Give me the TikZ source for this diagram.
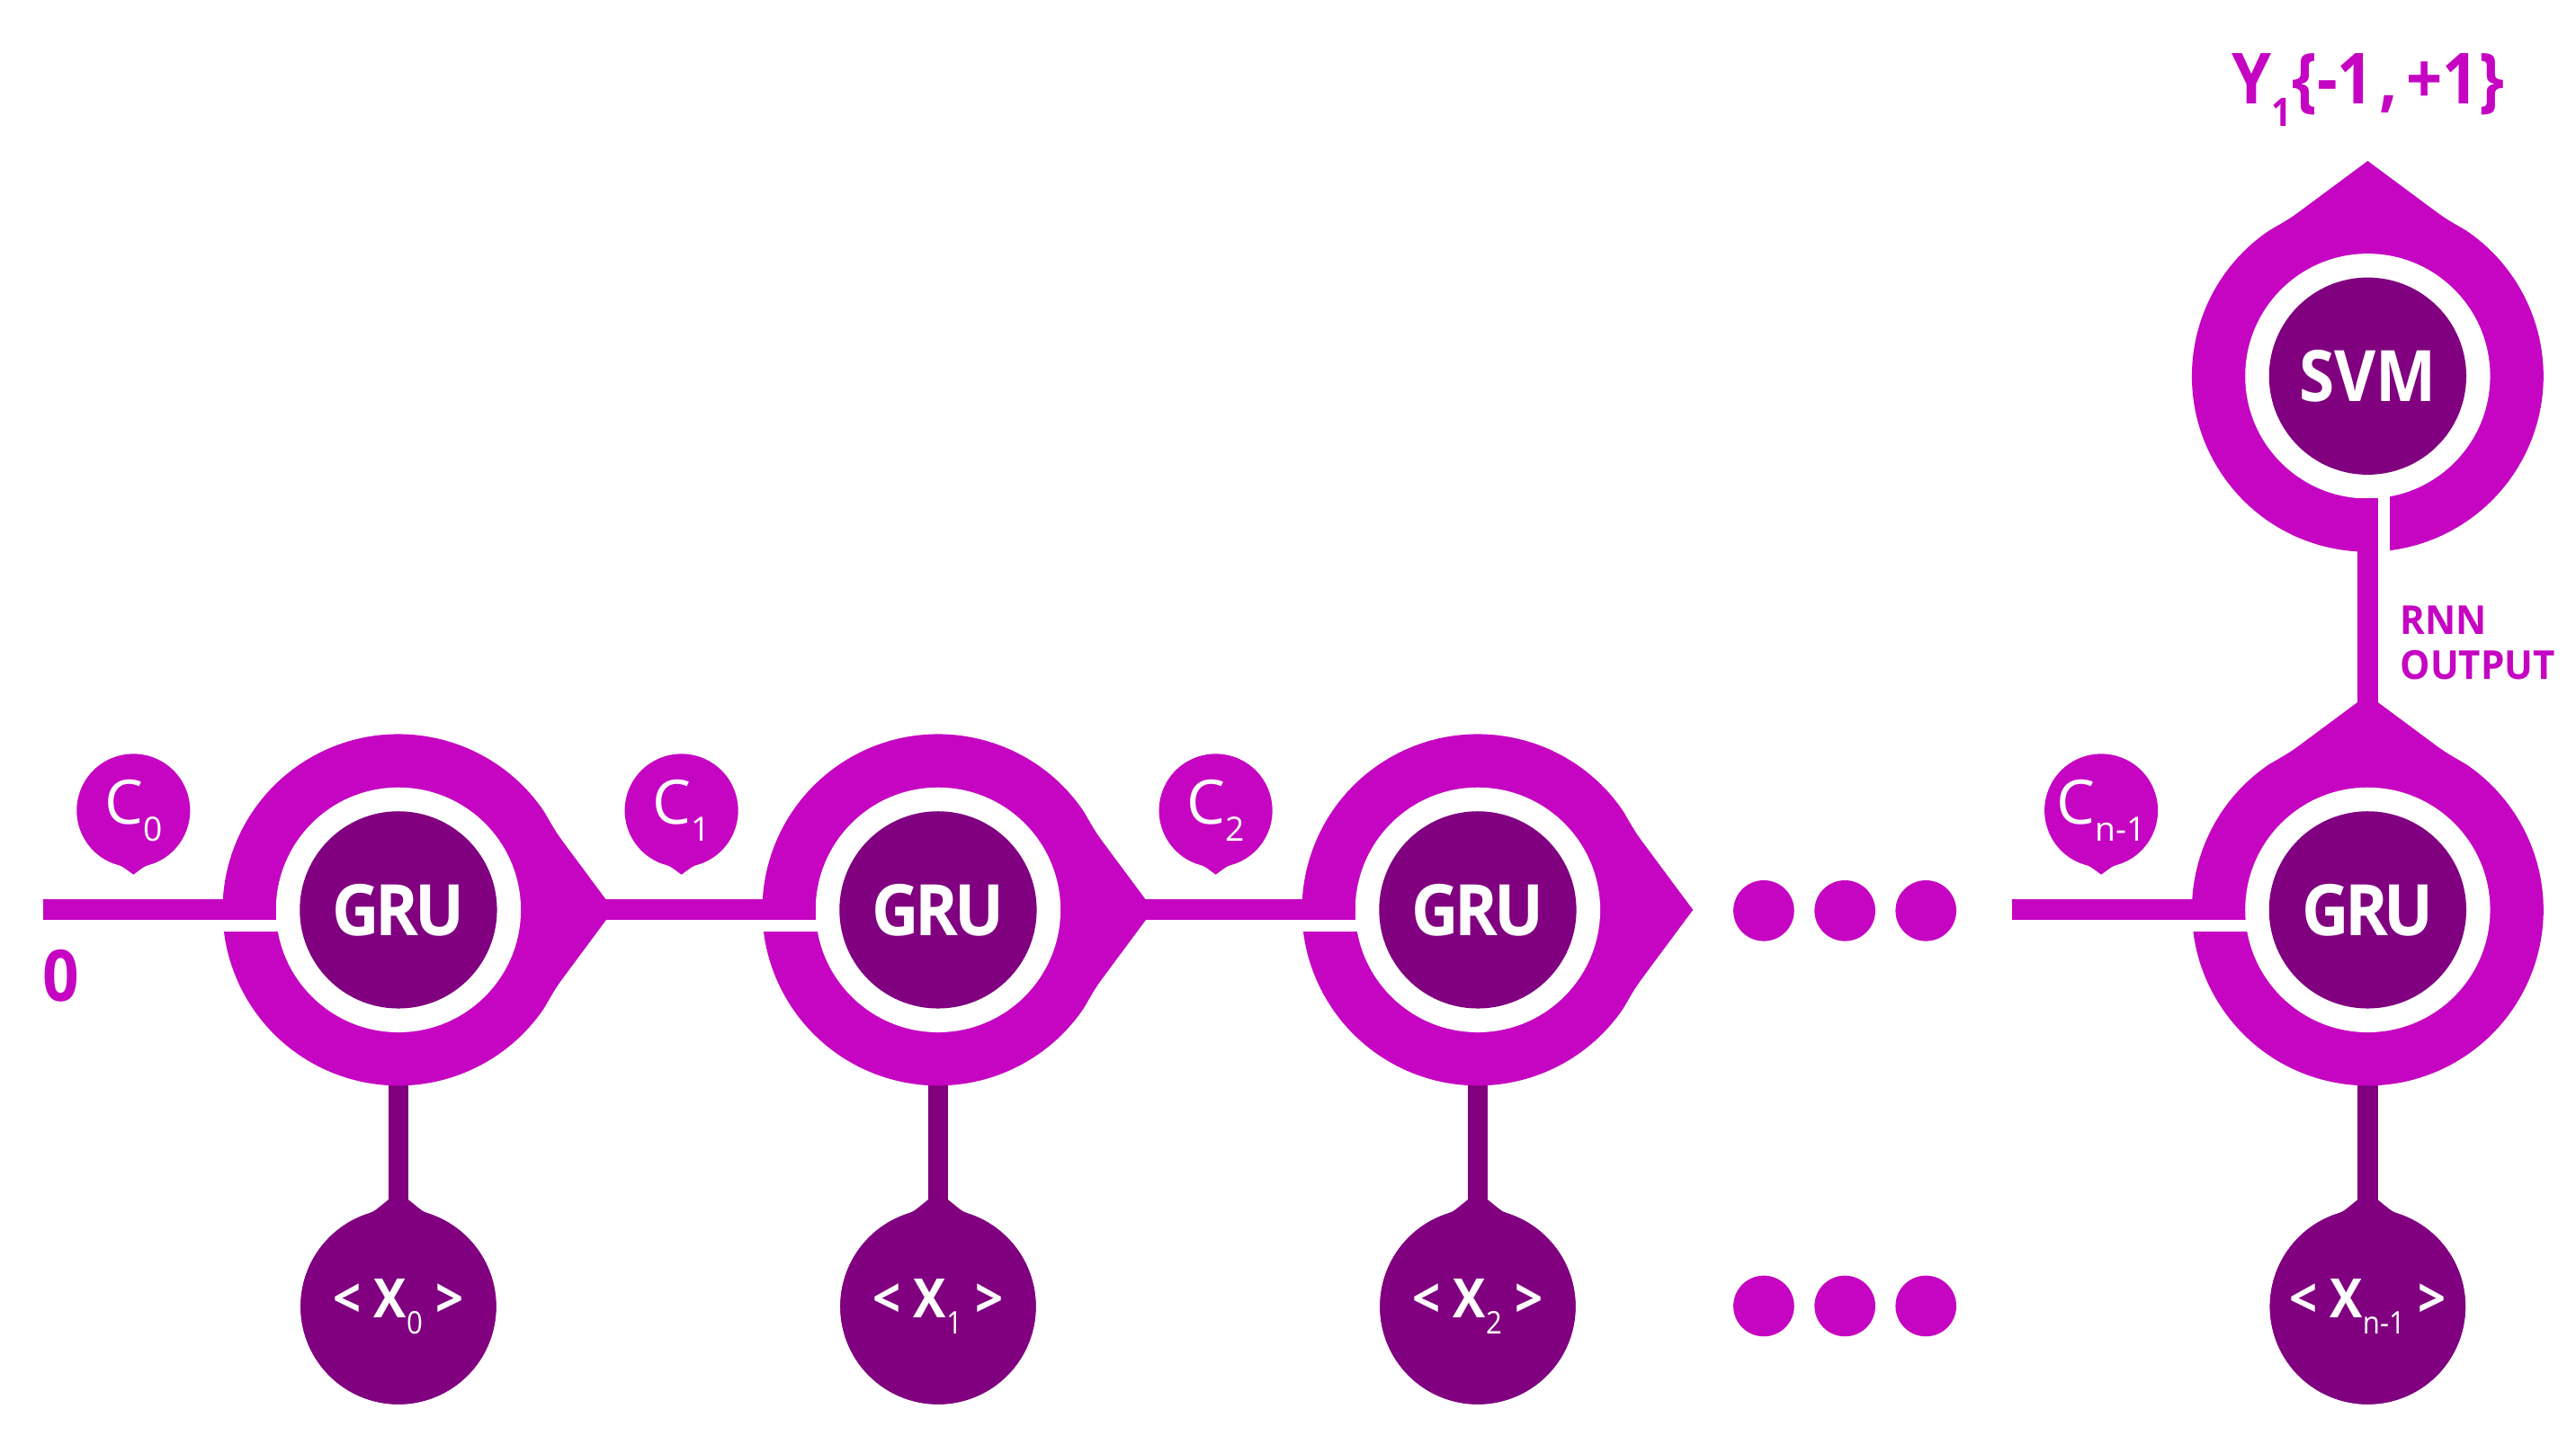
\documentclass[tikz,border=0pt]{standalone}
\usepackage{fontspec}
\setmainfont{Open Sans}
\newfontfamily\nfontA[FakeStretch=0.92, LetterSpace=-6]{Open Sans}
\newfontfamily\nfontB[FakeStretch=0.9]{Open Sans}
\newfontfamily\nfontC[FakeStretch=0.95]{Open Sans}
\usetikzlibrary{calc}
\definecolor{mag}{HTML}{C505C2}
\definecolor{dpur}{HTML}{800080}
% #1 colour, #2 centre, #3 radius, #4 apex distance, #5 direction, #6 shoulder angle, #7 fillet fraction, #8 fillet angle
\newcommand\dropshape[8]{%
  \begin{scope}[shift={(#2)}, rotate=#5]
    \fill[#1] (#4,0) -- ($(#4,0)!#7!(#6:#3)$) .. controls (#6:#3) .. ({#6+#8}:#3)
      arc[start angle={#6+#8}, end angle={360-#6-#8}, radius=#3]
      .. controls (-#6:#3) .. ($(#4,0)!#7!(-#6:#3)$) -- cycle;
  \end{scope}}
\newcommand\csub[1]{\raisebox{-2.85pt}{\fontsize{5.8}{6}\selectfont #1}}
\newcommand\xsub[1]{\raisebox{-2.85pt}{\fontsize{5.4}{6}\selectfont\mdseries #1}}
\begin{document}
\begin{tikzpicture}[x=0.01cm, y=0.01cm,
  core/.style={circle, fill=dpur, minimum size=1.2cm, inner sep=0, outer sep=0, text=white, font=\nfontA\fontsize{12.3}{14}\selectfont\bfseries},
  ring/.style={circle, fill=white, minimum size=1.49cm, inner sep=0, outer sep=0},
  xcore/.style={circle, fill=dpur, minimum size=1.19cm, inner sep=0, outer sep=0, text=white, font=\nfontB\fontsize{9.4}{10}\selectfont\bfseries},
  clab/.style={circle, minimum size=0.69cm, inner sep=0, outer sep=0, text=white, font=\fontsize{10.6}{12}\selectfont},
  dot/.style={circle, fill=mag, minimum size=0.37cm, inner sep=0, outer sep=0},
  mline/.style={draw=mag, line width=0.125cm},
  dline/.style={draw=dpur, line width=0.125cm},
  slit/.style={fill=white},
  lab/.style={text=mag, inner sep=0, outer sep=0}]
\useasboundingbox (0,0) rectangle (1568,873.8);
% centres
\coordinate (c0) at (242.5,319.8);
\coordinate (c1) at (571,319.8);
\coordinate (c2) at (899.5,319.8);
\coordinate (c3) at (1441.2,319.8);
\coordinate (cs) at (1441.2,644.8);
\coordinate (k0) at (242.5,78.3);
\coordinate (k1) at (571,78.3);
\coordinate (k2) at (899.5,78.3);
\coordinate (k3) at (1441.2,78.3);
\coordinate (b0) at (81.2,380.3);
\coordinate (b1) at (414.8,380.3);
\coordinate (b2) at (740,380.3);
\coordinate (b3) at (1279,380.3);
\coordinate (in0) at (26.4,319.8);
\coordinate (in3) at (1224.7,319.8);
% stems from GRU to inputs
\foreach \i in {0,...,3} \draw[dline] (c\i) -- (k\i);
% outer drops
\foreach \i in {0,1,2} {\dropshape{mag}{c\i}{107}{131}{0}{26}{0.8}{8}}
\dropshape{mag}{c3}{107}{131}{90}{26}{0.8}{8}
\dropshape{mag}{cs}{107}{131}{90}{26}{0.8}{8}
% slits
\foreach \i in {0,...,3} \fill[slit] ([shift={(-115,-6.25)}]c\i) rectangle ([shift={(-70,-13.25)}]c\i);
\fill[slit] ([shift={(6.25,-115)}]cs) rectangle ([shift={(13.25,-70)}]cs);
% rings and cores
\foreach \i in {0,...,3} {\node[ring] (r\i) at (c\i) {}; \node[core] (g\i) at (c\i) {GRU};}
\node[ring] (rs) at (cs) {};
\node[core, font=\nfontB\fontsize{12.3}{14}\selectfont\bfseries] (svm) at (cs) {SVM};
% input drops
\foreach \i in {0,...,3} {\dropshape{dpur}{k\i}{59.5}{70}{90}{15}{0.6}{6}}
\node[xcore] (x0) at (k0) {<\ X\xsub{0}\ >};
\node[xcore] (x1) at (k1) {<\ X\xsub{1}\ >};
\node[xcore] (x2) at (k2) {<\ X\xsub{2}\ >};
\node[xcore] (x3) at (k3) {<\ X\xsub{n-1}\ >};
% state bubbles
\foreach \i in {0,...,3} {\dropshape{mag}{b\i}{34.5}{39}{-90}{12}{0.5}{8}}
\node[clab] (cl0) at (b0) {C\csub{0}};
\node[clab] (cl1) at (b1) {C\csub{1}};
\node[clab] (cl2) at (b2) {C\csub{2}};
\node[clab] (cl3) at (b3) {C\csub{n-1}};
% connectors
\draw[mline] (in0) -- (r0.west);
\draw[mline] ([shift={(125,0)}]c0) -- (r1.west);
\draw[mline] ([shift={(125,0)}]c1) -- (r2.west);
\draw[mline] (in3) -- (r3.west);
\draw[mline] ([shift={(0,125)}]c3) -- (rs.south);
% dots
\foreach \x [count=\j] in {1073.6,1123,1172.3} {\node[dot] (dt\j) at (\x,319.3) {}; \node[dot] (db\j) at (\x,78.6) {};}
% labels
\node[lab, font=\nfontB\fontsize{12.3}{14}\selectfont\bfseries] (zero) at (37.3,279.8) {0};
\node[lab, anchor=west, align=left, font=\nfontC\fontsize{6.9}{7.7}\selectfont\bfseries] (rnn) at (1461,482.3) {RNN\\OUTPUT};
\node[lab, anchor=base, font=\nfontB\fontsize{12.2}{14}\selectfont\bfseries] (ylab) at (1441.5,810.8) {Y\raisebox{-4pt}{\fontsize{6.8}{7}\selectfont 1}\{-1\kern1pt,\kern1.5pt+1\}};
\end{tikzpicture}
\end{document}
